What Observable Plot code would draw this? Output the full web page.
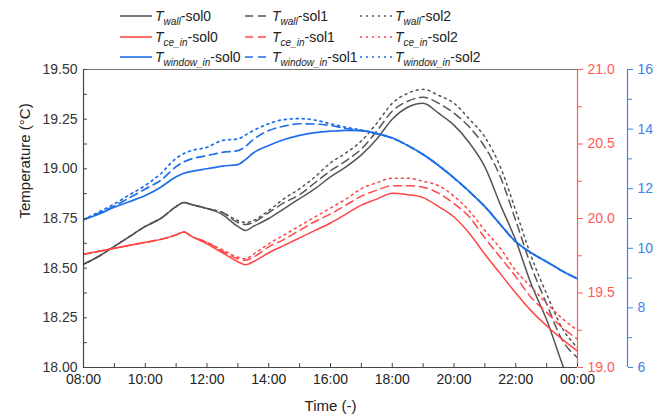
<!DOCTYPE html>
<html><head><meta charset="utf-8">
<script src="https://cdn.jsdelivr.net/npm/d3@7"></script>
<script src="https://cdn.jsdelivr.net/npm/@observablehq/plot@0.6"></script>
<style>
body{margin:0;background:#fff;font-family:"Liberation Sans",Arial,sans-serif;}
#legend{position:relative;width:665px;height:66px;}
.item{position:absolute;height:18px;display:flex;align-items:center;font-size:14px;color:#222;white-space:nowrap;}
.item svg{display:block;margin-right:3px;}
.item sub{font-size:10px;font-style:italic;vertical-align:-4px;line-height:0;}
#chart svg{display:block;}
</style></head><body>
<div id="legend"></div>
<div id="chart"></div>
<script>
const times = [8, 8.5, 9, 9.5, 10, 10.5, 11, 11.25, 11.5, 12, 12.5, 13, 13.25, 13.5, 14, 14.5, 15, 15.5, 16, 16.5, 17, 17.5, 18, 18.5, 19, 19.5, 20, 20.5, 21, 21.5, 22, 22.5, 23, 23.5, 24];

const wall0 = [18.52, 18.56, 18.61, 18.66, 18.71, 18.75, 18.81, 18.83, 18.82, 18.80, 18.77, 18.71, 18.69, 18.71, 18.75, 18.80, 18.85, 18.90, 18.96, 19.01, 19.07, 19.15, 19.25, 19.31, 19.33, 19.28, 19.22, 19.13, 19.01, 18.82, 18.64, 18.42, 18.24, 18.02, 17.80];
const wall1 = [18.52, 18.56, 18.61, 18.66, 18.71, 18.75, 18.81, 18.83, 18.82, 18.80, 18.78, 18.73, 18.72, 18.73, 18.78, 18.83, 18.87, 18.93, 18.99, 19.04, 19.10, 19.19, 19.29, 19.34, 19.36, 19.33, 19.28, 19.21, 19.11, 18.96, 18.74, 18.51, 18.32, 18.14, 18.05];
const wall2 = [18.52, 18.56, 18.61, 18.66, 18.71, 18.75, 18.81, 18.83, 18.82, 18.80, 18.78, 18.74, 18.73, 18.74, 18.79, 18.85, 18.90, 18.96, 19.03, 19.08, 19.14, 19.23, 19.33, 19.38, 19.40, 19.37, 19.33, 19.25, 19.16, 19.01, 18.79, 18.56, 18.37, 18.20, 18.10];

const ce0 = [19.76, 19.78, 19.80, 19.82, 19.84, 19.86, 19.89, 19.91, 19.88, 19.83, 19.77, 19.71, 19.69, 19.71, 19.77, 19.82, 19.87, 19.92, 19.97, 20.03, 20.09, 20.13, 20.17, 20.16, 20.14, 20.08, 20.01, 19.90, 19.76, 19.63, 19.50, 19.38, 19.28, 19.19, 19.11];
const ce1 = [19.76, 19.78, 19.80, 19.82, 19.84, 19.86, 19.89, 19.91, 19.88, 19.84, 19.78, 19.73, 19.72, 19.74, 19.81, 19.86, 19.92, 19.98, 20.03, 20.09, 20.15, 20.19, 20.22, 20.22, 20.21, 20.17, 20.10, 20.01, 19.87, 19.74, 19.61, 19.47, 19.37, 19.27, 19.19];
const ce2 = [19.76, 19.78, 19.80, 19.82, 19.84, 19.86, 19.89, 19.91, 19.88, 19.84, 19.79, 19.74, 19.73, 19.76, 19.83, 19.89, 19.95, 20.01, 20.07, 20.13, 20.20, 20.24, 20.27, 20.27, 20.25, 20.22, 20.15, 20.05, 19.92, 19.80, 19.65, 19.54, 19.43, 19.33, 19.25];

const win0 = [10.96, 11.15, 11.38, 11.57, 11.77, 12.05, 12.40, 12.52, 12.58, 12.67, 12.76, 12.81, 12.98, 13.20, 13.45, 13.65, 13.79, 13.88, 13.93, 13.96, 13.95, 13.85, 13.70, 13.45, 13.15, 12.78, 12.36, 11.90, 11.40, 10.80, 10.22, 9.85, 9.55, 9.24, 8.98];
const win1 = [10.96, 11.18, 11.42, 11.70, 11.99, 12.28, 12.74, 12.90, 13.00, 13.11, 13.22, 13.28, 13.42, 13.65, 13.95, 14.10, 14.18, 14.17, 14.12, 14.02, 13.95, 13.85, 13.70, 13.45, 13.15, 12.78, 12.36, 11.90, 11.40, 10.80, 10.22, 9.85, 9.55, 9.24, 8.98];
const win2 = [10.96, 11.22, 11.49, 11.80, 12.11, 12.50, 13.02, 13.18, 13.28, 13.39, 13.62, 13.67, 13.80, 13.95, 14.18, 14.32, 14.35, 14.30, 14.18, 14.06, 13.97, 13.85, 13.70, 13.45, 13.15, 12.78, 12.36, 11.90, 11.40, 10.80, 10.22, 9.85, 9.55, 9.24, 8.98];

const xTicks = [8, 10, 12, 14, 16, 18, 20, 22, 24];
const xMinor = [8, 9, 10, 11, 12, 13, 14, 15, 16, 17, 18, 19, 20, 21, 22, 23, 24];
const leftTicks = [18, 18.25, 18.5, 18.75, 19, 19.25, 19.5];
const leftMinor = [18.125, 18.375, 18.625, 18.875, 19.125, 19.375];
const redTicks = [19, 19.5, 20, 20.5, 21];
const redMinor = [19.25, 19.75, 20.25, 20.75];
const blueTicks = [6, 8, 10, 12, 14, 16];
const blueMinor = [7, 9, 11, 13, 15];

const solNames = ["sol0", "sol1", "sol2"];
const varSubs = ["wall", "ce_in", "window_in"];

const GRAY = "#555555", RED = "#ff4545", BLUE = "#1f6fe8";
const RED_AX = "#ff5a5a", BLUE_AX = "#3c82e8";
const dashes = [null, "8,5", "2,4"];

// conversions of right-axis units to the left (primary) y scale
const fromRed = v => 18 + (v - 19) * 0.75;
const toRed = v => 19 + (v - 18) / 0.75;
const fromBlue = v => 18 + (v - 6) * 0.15;
const toBlue = v => 6 + (v - 18) / 0.15;

const groups = [
  {vals: [wall0, wall1, wall2], color: GRAY, conv: v => v, w: 1.5},
  {vals: [ce0, ce1, ce2], color: RED, conv: fromRed, w: 1.5},
  {vals: [win0, win1, win2], color: BLUE, conv: fromBlue, w: 1.7}
];

const lineMarks = [];
groups.forEach(g => {
  g.vals.forEach((arr, i) => {
    const rows = times.map((t, k) => ({t, v: g.conv(arr[k])}));
    lineMarks.push(Plot.line(rows, {x: "t", y: "v", stroke: g.color, strokeWidth: g.w,
      strokeDasharray: dashes[i], clip: true, curve: "monotone-x"}));
  });
});

const fmtTime = h => String(h % 24).padStart(2, "0") + ":00";

const chart = Plot.plot({
  width: 665, height: 354,
  marginTop: 3, marginBottom: 53, marginLeft: 83, marginRight: 88,
  style: {fontFamily: "Liberation Sans, Arial, sans-serif", fontSize: "14px", color: "#333", background: "#fff", overflow: "visible"},
  x: {domain: [8, 24], axis: null},
  y: {domain: [18, 19.5], axis: null},
  marks: [
    ...lineMarks,
    Plot.ruleY([19.5], {stroke: "#777", strokeWidth: 1.2}),
    Plot.ruleY([18], {stroke: "#444", strokeWidth: 1.2}),
    Plot.ruleX([8], {stroke: "#444", strokeWidth: 1.2}),
    Plot.ruleX([24], {stroke: RED_AX, strokeWidth: 1.2}),
    Plot.ruleX([24], {stroke: BLUE_AX, strokeWidth: 1.2, dx: 50}),
    Plot.axisY(leftTicks, {anchor: "left", tickSize: 0, tickPadding: 6, tickFormat: d => d.toFixed(2), label: null, fill: "#333"}),
    Plot.axisY(leftTicks.concat(leftMinor), {anchor: "left", tickSize: -4, fill: "none", stroke: "#444", label: null}),
    Plot.axisX(xTicks, {anchor: "bottom", tickSize: 0, tickPadding: 7, tickFormat: fmtTime, label: null, fill: "#222"}),
    Plot.axisX(xMinor, {anchor: "bottom", tickSize: -4, fill: "none", stroke: "#444", label: null}),
    Plot.axisY(redTicks.map(fromRed), {anchor: "right", tickSize: 5, tickPadding: 5, tickFormat: v => toRed(v).toFixed(1), label: null, stroke: RED_AX, fill: RED_AX}),
    Plot.axisY(redMinor.map(fromRed), {anchor: "right", tickSize: 4, fill: "none", stroke: RED_AX, label: null}),
    Plot.axisY(blueTicks.map(fromBlue), {anchor: "right", dx: 50, tickSize: 5, tickPadding: 5, tickFormat: v => String(Math.round(toBlue(v))), label: null, stroke: BLUE_AX, fill: BLUE_AX}),
    Plot.axisY(blueMinor.map(fromBlue), {anchor: "right", dx: 50, tickSize: 4, fill: "none", stroke: BLUE_AX, label: null}),
    Plot.text(["Temperature (°C)"], {frameAnchor: "left", dx: -58, rotate: -90, fontSize: 15, fill: "#222"}),
    Plot.text(["Time (-)"], {frameAnchor: "bottom", dy: 43, fontSize: 15, fill: "#222"})
  ]
});
document.getElementById("chart").appendChild(chart);

// legend
const legend = document.getElementById("legend");
const colX = [{x: 120, w: 32}, {x: 245, w: 24}, {x: 360, w: 32}];
const rowY = [16, 37, 57];
const colors = [GRAY, RED, BLUE];
varSubs.forEach((sub, r) => {
  solNames.forEach((sol, c) => {
    const d = document.createElement("div");
    d.className = "item";
    d.style.left = colX[c].x + "px";
    d.style.top = (rowY[r] - 9) + "px";
    const w = colX[c].w;
    const dash = dashes[c] ? `stroke-dasharray="${dashes[c]}"` : "";
    d.innerHTML = `<svg width="${w}" height="18"><line x1="0" x2="${w}" y1="9" y2="9" stroke="${colors[r]}" stroke-width="1.6" ${dash}/></svg>` +
      `<span><i>T</i><sub>${sub}</sub>-${sol}</span>`;
    legend.appendChild(d);
  });
});
</script>
</body></html>
